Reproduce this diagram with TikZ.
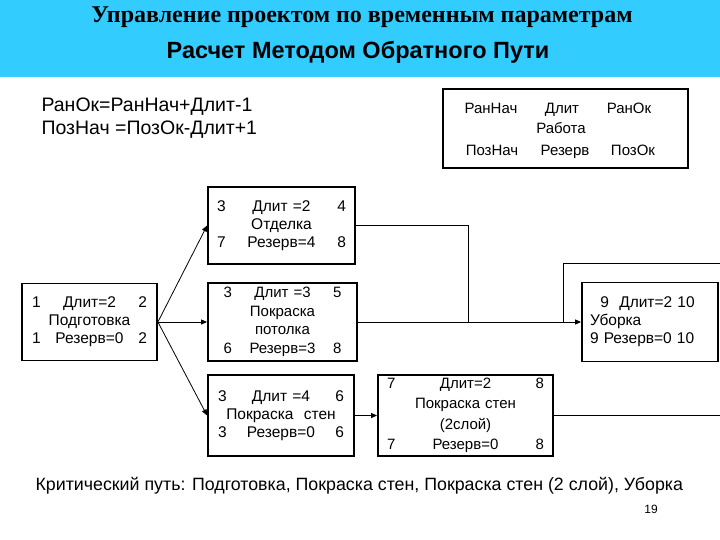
\documentclass[tikz,border=0pt]{standalone}
\usepackage{fontspec}
\setmainfont{Liberation Sans}
\newfontfamily\serifhead{Liberation Serif}
\usetikzlibrary{arrows.meta}
\definecolor{bandblue}{RGB}{51,204,255}

\tikzset{
  task/.style={draw, line width=1.8pt, minimum height=77pt, align=center,
    font=\fontsize{15.5}{18}\selectfont, inner sep=0pt},
  link/.style={line width=0.8pt},
}

\begin{document}
\begin{tikzpicture}[x=1pt,y=-1pt,>={Triangle[length=6pt,width=5pt]}]
\useasboundingbox (0,0) rectangle (720,540);

% title band
\fill[bandblue] (0,0) rectangle (720,77);
\node (head) at (362,17) {\serifhead\bfseries\fontsize{24}{26}\selectfont Управление проектом по временным параметрам};
\node (sub) at (358,52) {\bfseries\fontsize{23.5}{26}\selectfont Расчет Методом Обратного Пути};

% formulas
\node[anchor=west, align=left, font=\fontsize{19.5}{23}\selectfont] (rules) at (38,118)
  {РанОк=РанНач+Длит-1\\ПозНач =ПозОк-Длит+1};

% legend
\node[draw, line width=1.6pt, minimum width=245pt, minimum height=79pt] (legend) at (565.5,128.5) {};
\begin{scope}[every node/.style={font=\fontsize{15}{17}\selectfont, anchor=base}]
  \node (rn) at (491,114) {РанНач};
  \node (dl) at (562,114) {Длит};
  \node (ro) at (629,114) {РанОк};
  \node (rab) at (561,134) {Работа};
  \node (pn) at (492,156) {ПозНач};
  \node (rz) at (565,156) {Резерв};
  \node (po) at (633,156) {ПозОк};
\end{scope}

% works
\node[task, minimum width=135pt, text width=115pt] (podg) at (89.5,322)
  {1\hfill Длит=2\hfill 2\\ Подготовка\\ 1\hfill Резерв=0\hfill 2};
\node[task, minimum width=147pt, text width=129pt] (otd) at (281.5,225.5)
  {3\hfill Длит =2\hfill 4\\ Отделка\\ 7\hfill Резерв=4\hfill 8};
\node[task, minimum width=149pt, minimum height=78pt, text width=118pt,
  font=\fontsize{15}{18.5}\selectfont] (potol) at (282.5,322)
  {3\hfill Длит =3\hfill 5\\ Покраска\\ потолка\\ 6\hfill Резерв=3\hfill 8};
\node[task, minimum width=146pt, minimum height=81pt, text width=126pt] (sten) at (281,415.5)
  {3\hfill Длит =4\hfill 6\\ Покраска\ \ стен\\ 3\hfill Резерв=0\hfill 6};
\node[task, minimum width=175pt, minimum height=81pt, text width=157pt,
  font=\fontsize{15}{20.5}\selectfont] (sloj) at (465.5,415.5)
  {7\hfill Длит=2\hfill 8\\ Покраска стен\\ (2слой)\\ 7\hfill Резерв=0\hfill 8};
\node[task, minimum width=136pt, minimum height=79pt, text width=120pt, align=left] (uborka) at (650,322)
  {\ \ 9\ \ Длит=2 10\\ Уборка\\ 9 Резерв=0 10};

% links
\coordinate (jotd) at (468,322);
\coordinate (jub) at (563,322);
\coordinate (offtop) at (720,263);
\coordinate (offlow) at (720,415.5);

\draw[link,->] (podg.east) -- (otd.west);
\draw[link,->] (podg.east) -- (potol.west);
\draw[link,->] (podg.east) -- (sten.west);
\draw[link,->] (sten.east) -- (sloj.west);
\draw[link] (otd.east) -| (jotd);
\draw[link,->] (potol.east) -- (uborka.west);
\draw[link] (jub) |- (offtop);
\draw[link] (sloj.east) -- (offlow);

% critical path
\node[anchor=west, font=\fontsize{17.8}{20}\selectfont] (crit) at (32,486)
  {Критический путь: Подготовка, Покраска стен, Покраска стен (2 слой), Уборка};
\node[font=\fontsize{12}{13}\selectfont] (pagenum) at (651,509) {19};
\end{tikzpicture}
\end{document}
